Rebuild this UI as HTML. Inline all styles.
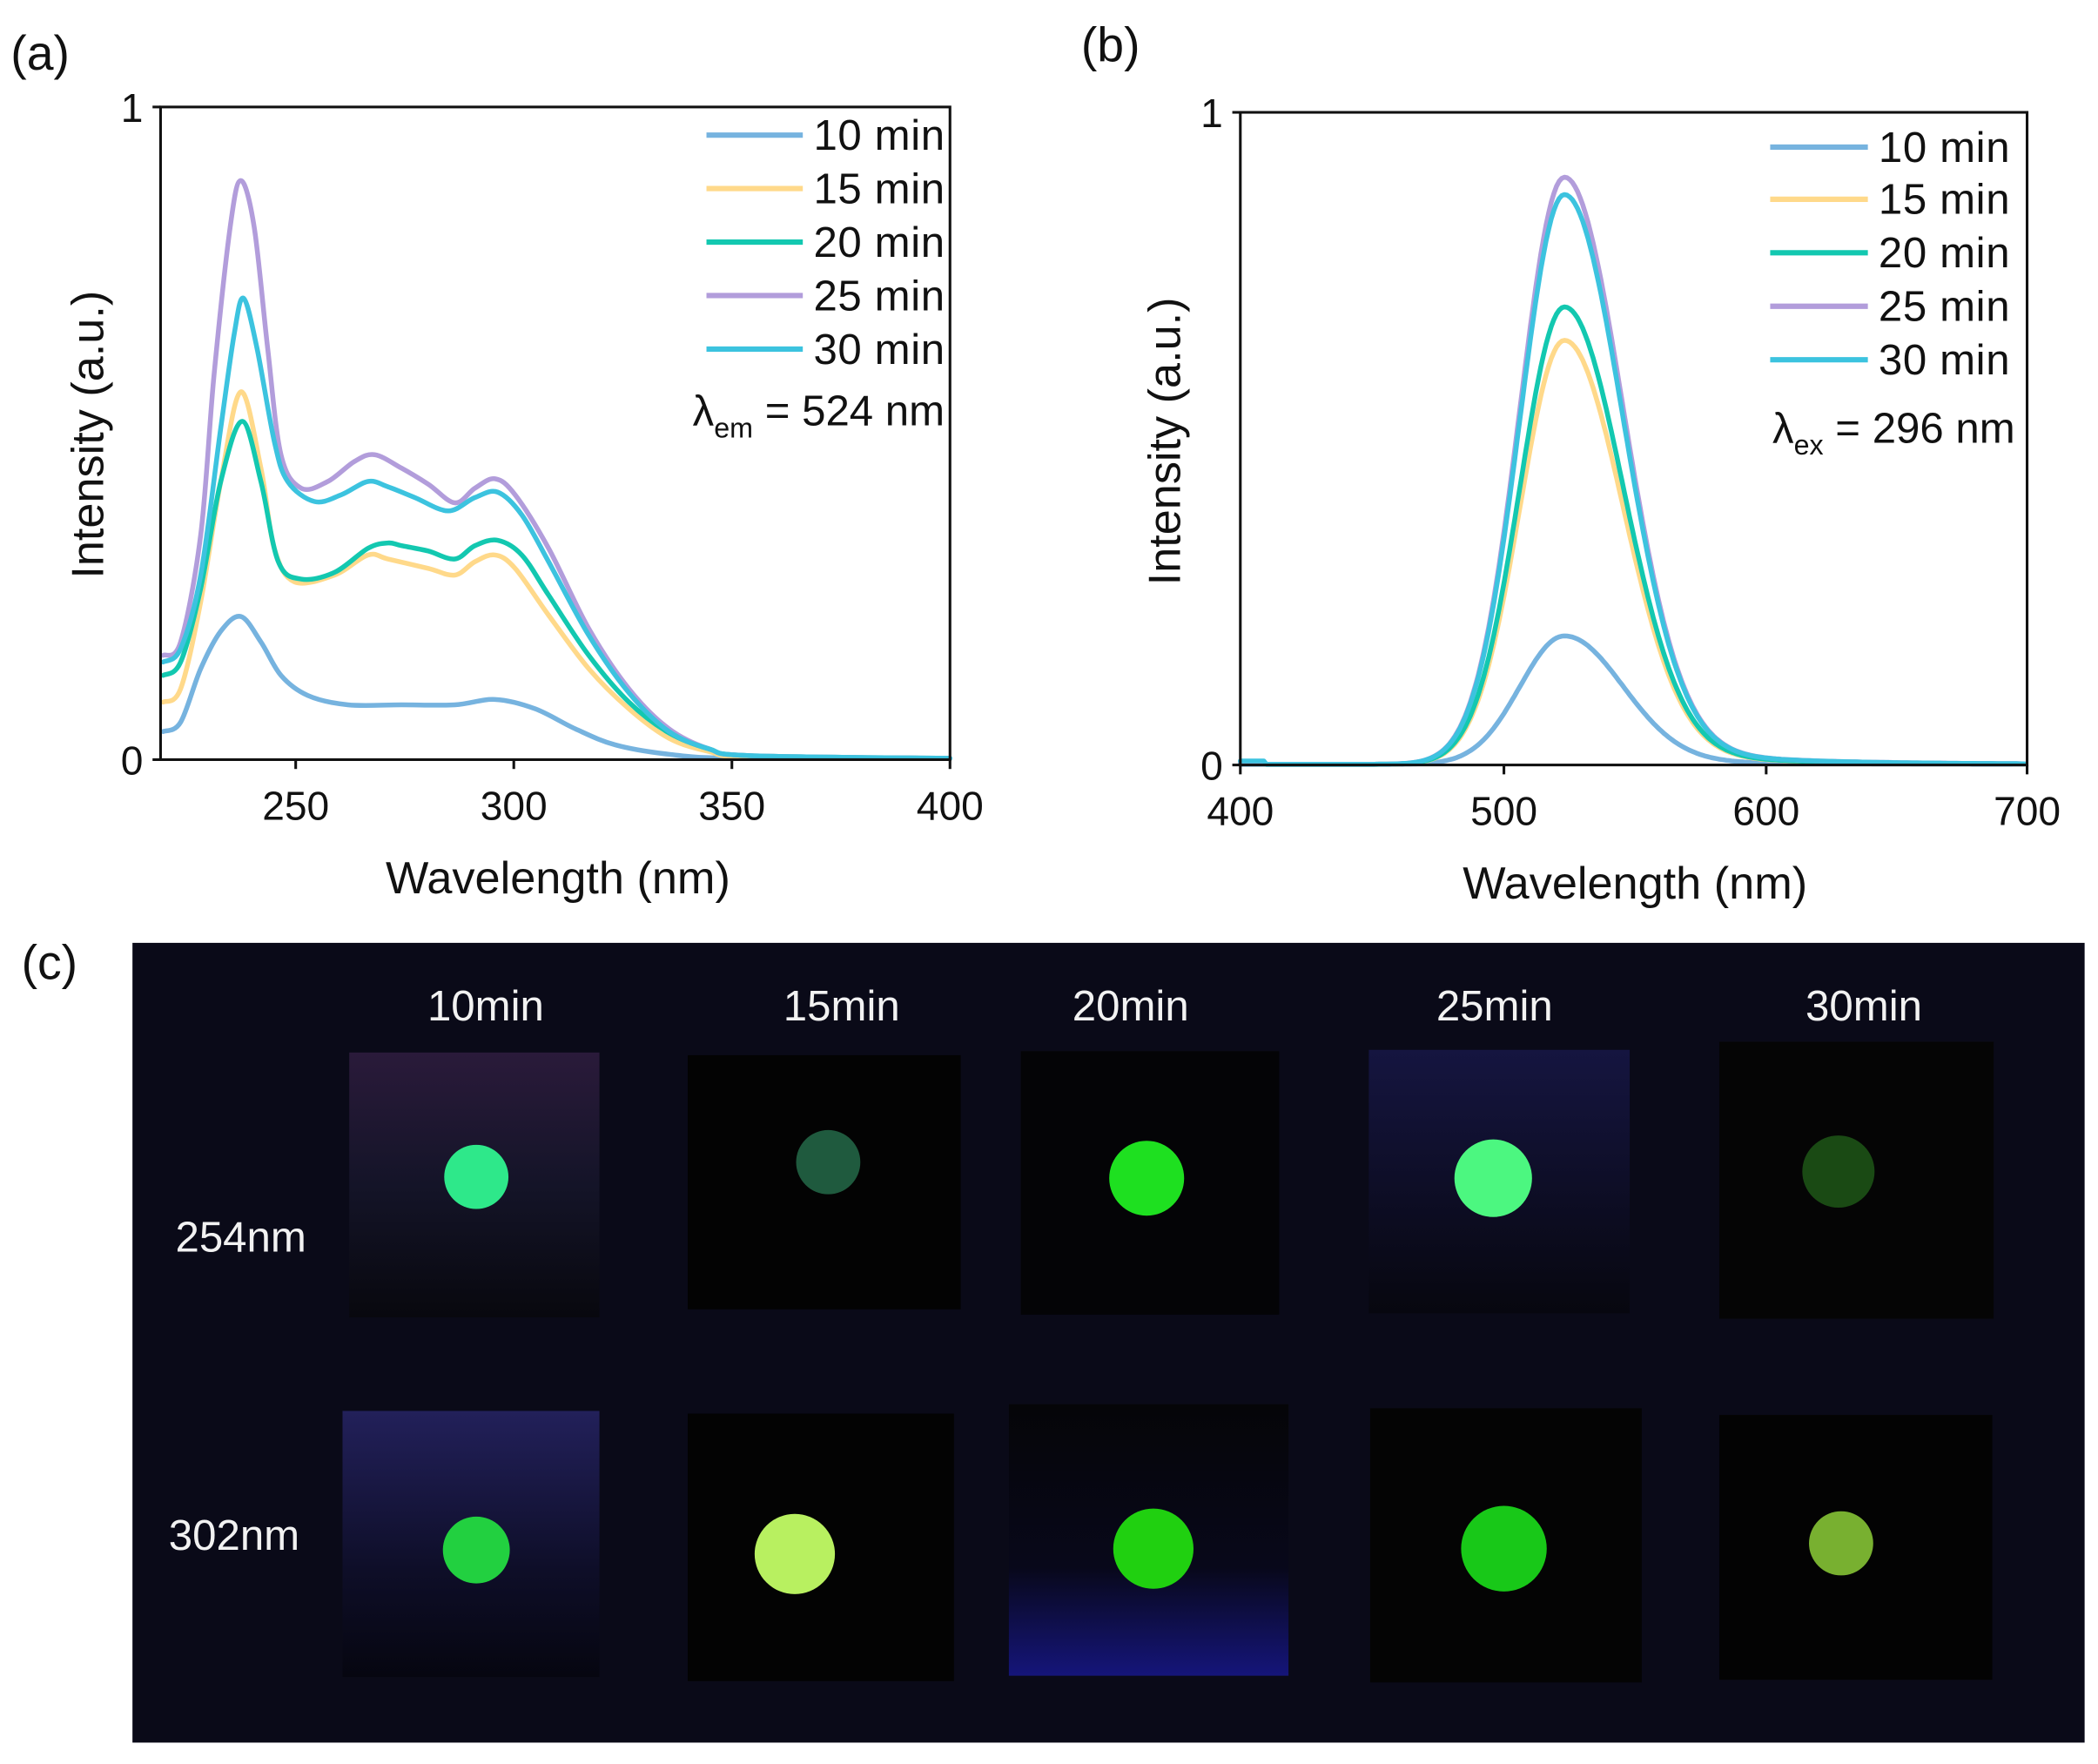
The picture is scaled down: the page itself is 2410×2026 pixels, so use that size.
<!DOCTYPE html>
<html><head><meta charset="utf-8"><style>
html,body{margin:0;padding:0;background:#fff;}
svg{display:block;}
text{font-family:"Liberation Sans","Noto Sans CJK SC",sans-serif;}
</style></head><body>
<svg id="s" width="2410" height="2026" viewBox="0 0 1568 1319" preserveAspectRatio="none" xmlns="http://www.w3.org/2000/svg">
<rect width="1568" height="1319" fill="#fff"/>
<!-- Panel a -->
<text x="8" y="52" font-size="36" fill="#111">(a)</text>
<g id="acurves" fill="none" stroke-width="3.6" stroke-linejoin="round" stroke-linecap="round"></g>
<g stroke="#111" stroke-width="2" fill="none">
<rect x="120" y="80" width="590" height="488"/>
<line x1="114" y1="80" x2="120" y2="80"/><line x1="114" y1="568" x2="120" y2="568"/>
<line x1="221" y1="568" x2="221" y2="575"/><line x1="384" y1="568" x2="384" y2="575"/><line x1="547" y1="568" x2="547" y2="575"/><line x1="710" y1="568" x2="710" y2="575"/>
</g>
<g font-size="30" fill="#111">
<text x="107" y="91" text-anchor="end">1</text><text x="107" y="579" text-anchor="end">0</text>
<text x="221" y="613" text-anchor="middle">250</text><text x="384" y="613" text-anchor="middle">300</text><text x="547" y="613" text-anchor="middle">350</text><text x="710" y="613" text-anchor="middle">400</text>
<text x="417" y="668" text-anchor="middle" font-size="34">Wavelength (nm)</text>
<text transform="translate(77,325) rotate(-90)" text-anchor="middle" font-size="34">Intensity (a.u.)</text>
</g>
<g stroke-width="4">
<line x1="528" y1="101" x2="600" y2="101" stroke="#76b3df"/>
<line x1="528" y1="141" x2="600" y2="141" stroke="#ffd98a"/>
<line x1="528" y1="181" x2="600" y2="181" stroke="#13c8b0"/>
<line x1="528" y1="221" x2="600" y2="221" stroke="#b29ddb"/>
<line x1="528" y1="261" x2="600" y2="261" stroke="#3cc3df"/>
</g>
<g font-size="32" fill="#111">
<text x="608" y="112" textLength="98">10 min</text><text x="608" y="152" textLength="98">15 min</text><text x="608" y="192" textLength="98">20 min</text><text x="608" y="232" textLength="98">25 min</text><text x="608" y="272" textLength="98">30 min</text>
<text x="706" y="318" text-anchor="end">λ<tspan font-size="21" dy="9">em</tspan><tspan dy="-9"> = 524 nm</tspan></text>
</g>
<!-- Panel b -->
<text x="808" y="46" font-size="36" fill="#111">(b)</text>
<g id="bcurves" fill="none" stroke-width="3.6" stroke-linejoin="round" stroke-linecap="round"></g>
<g stroke="#111" stroke-width="2" fill="none">
<rect x="927" y="84" width="588" height="488"/>
<line x1="921" y1="84" x2="927" y2="84"/><line x1="921" y1="572" x2="927" y2="572"/>
<line x1="927" y1="572" x2="927" y2="579"/><line x1="1124" y1="572" x2="1124" y2="579"/><line x1="1320" y1="572" x2="1320" y2="579"/><line x1="1515" y1="572" x2="1515" y2="579"/>
</g>
<g font-size="30" fill="#111">
<text x="914" y="95" text-anchor="end">1</text><text x="914" y="583" text-anchor="end">0</text>
<text x="927" y="617" text-anchor="middle">400</text><text x="1124" y="617" text-anchor="middle">500</text><text x="1320" y="617" text-anchor="middle">600</text><text x="1515" y="617" text-anchor="middle">700</text>
<text x="1222" y="672" text-anchor="middle" font-size="34">Wavelength (nm)</text>
<text transform="translate(882,330) rotate(-90)" text-anchor="middle" font-size="34">Intensity (a.u.)</text>
</g>
<g stroke-width="4">
<line x1="1323" y1="110" x2="1396" y2="110" stroke="#76b3df"/>
<line x1="1323" y1="149" x2="1396" y2="149" stroke="#ffd98a"/>
<line x1="1323" y1="189" x2="1396" y2="189" stroke="#13c8b0"/>
<line x1="1323" y1="229" x2="1396" y2="229" stroke="#b29ddb"/>
<line x1="1323" y1="269" x2="1396" y2="269" stroke="#3cc3df"/>
</g>
<g font-size="32" fill="#111">
<text x="1404" y="121" textLength="98">10 min</text><text x="1404" y="160" textLength="98">15 min</text><text x="1404" y="200" textLength="98">20 min</text><text x="1404" y="240" textLength="98">25 min</text><text x="1404" y="280" textLength="98">30 min</text>
<text x="1506" y="331" text-anchor="end">λ<tspan font-size="21" dy="9">ex</tspan><tspan dy="-9"> = 296 nm</tspan></text>
</g>
<!-- Panel c -->
<text x="16" y="732" font-size="36" fill="#111">(c)</text>
<rect x="99" y="705" width="1459" height="598" fill="#0a0a18"/>
<g font-size="32" fill="#f2f2f2" text-anchor="middle">
<text x="363" y="763">10min</text><text x="629" y="763">15min</text><text x="845" y="763">20min</text><text x="1117" y="763">25min</text><text x="1393" y="763">30min</text>
<text x="180" y="936">254nm</text><text x="175" y="1159">302nm</text>
</g>
<defs>
<linearGradient id="g1" x1="0" y1="0" x2="0" y2="1"><stop offset="0" stop-color="#2a1a3a"/><stop offset="0.5" stop-color="#141428"/><stop offset="1" stop-color="#08080e"/></linearGradient>
<linearGradient id="g2" x1="0" y1="0" x2="0" y2="1"><stop offset="0" stop-color="#22205a"/><stop offset="0.6" stop-color="#0e0e28"/><stop offset="1" stop-color="#060610"/></linearGradient>
<linearGradient id="g3" x1="0" y1="0" x2="0" y2="1"><stop offset="0" stop-color="#050508"/><stop offset="0.6" stop-color="#08081a"/><stop offset="1" stop-color="#15157a"/></linearGradient>
<linearGradient id="g4" x1="0" y1="0" x2="0" y2="1"><stop offset="0" stop-color="#151540"/><stop offset="1" stop-color="#07070f"/></linearGradient>
</defs>
<rect x="261" y="787" width="187" height="198" fill="url(#g1)"/>
<rect x="514" y="789" width="204" height="190" fill="#030303"/>
<rect x="763" y="786" width="193" height="197" fill="#040406"/>
<rect x="1023" y="785" width="195" height="197" fill="url(#g4)"/>
<rect x="1285" y="779" width="205" height="207" fill="#050505"/>
<rect x="256" y="1055" width="192" height="199" fill="url(#g2)"/>
<rect x="514" y="1057" width="199" height="200" fill="#030303"/>
<rect x="754" y="1050" width="209" height="203" fill="url(#g3)"/>
<rect x="1024" y="1053" width="203" height="205" fill="#040404"/>
<rect x="1285" y="1058" width="204" height="198" fill="#030303"/>
<circle cx="356" cy="880" r="24" fill="#2ee88a"/>
<circle cx="619" cy="869" r="24" fill="#1f5a3e"/>
<circle cx="857" cy="881" r="28" fill="#1ee020"/>
<circle cx="1116" cy="881" r="29" fill="#4cf780"/>
<circle cx="1374" cy="876" r="27" fill="#1a4a14"/>
<circle cx="356" cy="1159" r="25" fill="#22d040"/>
<circle cx="594" cy="1162" r="30" fill="#b8f060"/>
<circle cx="862" cy="1158" r="30" fill="#20d010"/>
<circle cx="1124" cy="1158" r="32" fill="#18c818"/>
<circle cx="1376" cy="1154" r="24" fill="#78b030"/>
</svg>
<script>
(function(){
var NS="http://www.w3.org/2000/svg";
function cr(pts){
 var d="M"+pts[0][0]+","+pts[0][1];
 for(var i=0;i<pts.length-1;i++){
  var p0=pts[Math.max(0,i-1)],p1=pts[i],p2=pts[i+1],p3=pts[Math.min(pts.length-1,i+2)];
  var c1x=p1[0]+(p2[0]-p0[0])/6,c1y=p1[1]+(p2[1]-p0[1])/6;
  var c2x=p2[0]-(p3[0]-p1[0])/6,c2y=p2[1]-(p3[1]-p1[1])/6;
  d+="C"+c1x.toFixed(1)+","+c1y.toFixed(1)+" "+c2x.toFixed(1)+","+c2y.toFixed(1)+" "+p2[0]+","+p2[1];
 }
 return d;
}
var A=[
["#76b3df",[[122,547],[135,540],[150,500],[165,472],[180,461],[195,480],[210,505],[230,520],[260,527],[300,527],[340,527],[370,523],[400,530],[430,545],[460,557],[500,564],[550,567],[710,567]]],
["#ffd98a",[[122,525],[135,515],[150,450],[165,360],[180,293],[195,350],[205,410],[220,435],[250,430],[275,415],[290,418],[320,425],[340,430],[355,420],[370,415],[385,425],[410,460],[440,500],[470,530],[500,552],[530,562],[560,566],[710,567]]],
["#13c8b0",[[122,505],[135,495],[150,440],[165,360],[181,315],[195,360],[208,420],[225,433],[250,428],[275,410],[290,406],[300,408],[320,412],[340,418],[355,408],[372,404],[390,415],[410,445],[440,490],[470,525],[500,548],[530,560],[560,565],[710,567]]],
["#b29ddb",[[122,490],[135,480],[150,400],[160,280],[172,170],[180,135],[190,170],[200,260],[210,340],[225,365],[245,360],[265,345],[280,340],[300,350],[320,362],[340,376],[355,365],[370,358],[385,370],[410,410],[440,470],[470,515],[500,545],[530,560],[560,565],[710,567]]],
["#3cc3df",[[122,495],[135,485],[150,430],[165,320],[175,250],[182,223],[192,260],[205,330],[215,360],[235,375],[255,370],[275,360],[290,364],[310,372],[335,382],[355,372],[372,368],[390,385],[410,420],[440,475],[470,518],[500,547],[530,560],[560,565],[710,567]]]
];
var ga=document.getElementById('acurves');
A.forEach(function(s){var p=document.createElementNS(NS,"path");p.setAttribute("d",cr(s[1]));p.setAttribute("stroke",s[0]);ga.appendChild(p);});
var g=document.getElementById('bcurves');
var series=[["#76b3df",96,0.5],["#ffd98a",317,1],["#13c8b0",342,1],["#b29ddb",439,2],["#3cc3df",426,3]];
series.forEach(function(s){
 var d="";
 for(var l=400;l<=700;l+=1){
  var dx=l-524, sg=dx<0?17:22;
  var h=s[1]*Math.exp(-dx*dx/(2*sg*sg));
  if(dx>0) h+=s[1]*0.05*Math.exp(-dx/45)*(1-Math.exp(-dx*dx/800));
  var base=(l<410?s[2]:0.5);
  var x=927+(l-400)*1.9533, y=572-h-base;
  d+=(d?"L":"M")+x.toFixed(1)+","+y.toFixed(1);
 }
 var p=document.createElementNS(NS,"path");
 p.setAttribute("d",d);p.setAttribute("stroke",s[0]);g.appendChild(p);
});
})();
</script>
</body></html>
